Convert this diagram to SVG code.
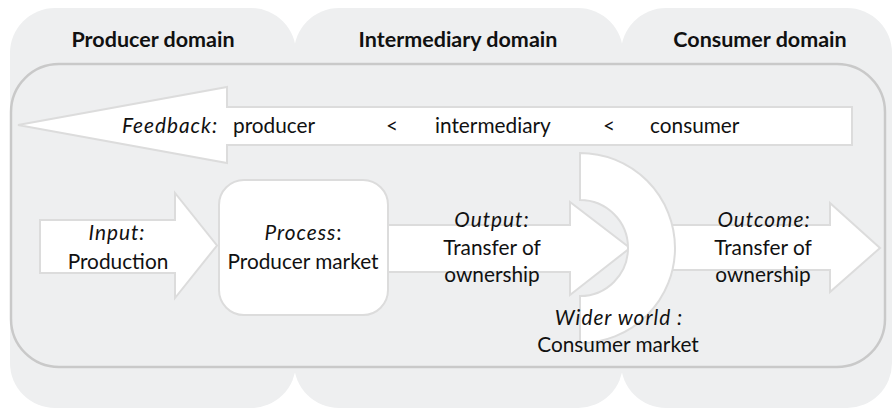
<svg xmlns="http://www.w3.org/2000/svg" width="893" height="409" viewBox="0 0 893 409">
<style>
.dom{fill:#eeeff0;stroke:none}
.inner{fill:#eeeff0;stroke:#c9c9c9;stroke-width:2.5}
.shape{fill:#ffffff;stroke:#dcdcdc;stroke-width:2}
text{font-family:Lato,"Liberation Sans",sans-serif;font-size:20.8px;fill:#111;text-anchor:middle}
.title{font-weight:bold;font-size:21.5px}
.it{font-style:italic;letter-spacing:1px}
.l{text-anchor:start}
</style>
<rect width="893" height="409" fill="#ffffff"/>
<g id="producer-domain">
<rect class="dom" x="10" y="8" width="286" height="400" rx="45"/>
</g>
<g id="intermediary-domain">
<rect class="dom" x="294" y="8" width="329" height="400" rx="45"/>
</g>
<g id="consumer-domain">
<rect class="dom" x="621" y="8" width="271" height="400" rx="45"/>
</g>
<g id="system-box">
<rect class="inner" x="11" y="64" width="874" height="303" rx="48"/>
</g>
<g id="titles">
<text class="title" x="153" y="47">Producer domain</text>
<text class="title" x="458" y="47">Intermediary domain</text>
<text class="title" x="760" y="47">Consumer domain</text>
</g>
<g id="connectors">
<g id="feedback">
<polygon class="shape" points="852,107 227,107 227,87 18,125 227,163 227,145 852,145"/>
<text class="it l" x="122" y="133">Feedback:</text>
<text class="l" x="233" y="133">producer</text>
<text class="l" x="386" y="133">&lt;</text>
<text class="l" x="435" y="133">intermediary</text>
<text class="l" x="603" y="133">&lt;</text>
<text class="l" x="650" y="133">consumer</text>
</g>
<g id="input">
<polygon class="shape" points="40,220 175,220 175,193 217,245.5 175,298 175,273 40,273"/>
<text class="it" x="117" y="240">Input:</text>
<text x="118" y="269">Production</text>
</g>
<g id="outcome">
<polygon class="shape" points="640,225 830,225 830,203 880,248 830,292 830,270 640,270"/>
</g>
<g id="output">
<polygon class="shape" points="388,225 570,225 570,202 630,248 570,295 570,272 388,272"/>
</g>
</g>
<g id="process">
<rect class="shape" x="219" y="180" width="169" height="135" rx="25"/>
<text x="303" y="240"><tspan class="it">Process</tspan>:</text>
<text x="303" y="269">Producer market</text>
</g>
<g id="wider-world">
<path class="shape" d="M580,153 A95,95 0 0 1 580,343 L580,296 A48,48 0 0 0 580,200 Z"/>
<text class="it" x="619" y="325">Wider world :</text>
<text x="618" y="352">Consumer market</text>
</g>
<g id="labels">
<text class="it" x="492" y="227">Output:</text>
<text x="492" y="255">Transfer of</text>
<text x="492" y="282">ownership</text>
<text class="it" x="764" y="227">Outcome:</text>
<text x="763" y="255">Transfer of</text>
<text x="763" y="282">ownership</text>
</g>
</svg>
